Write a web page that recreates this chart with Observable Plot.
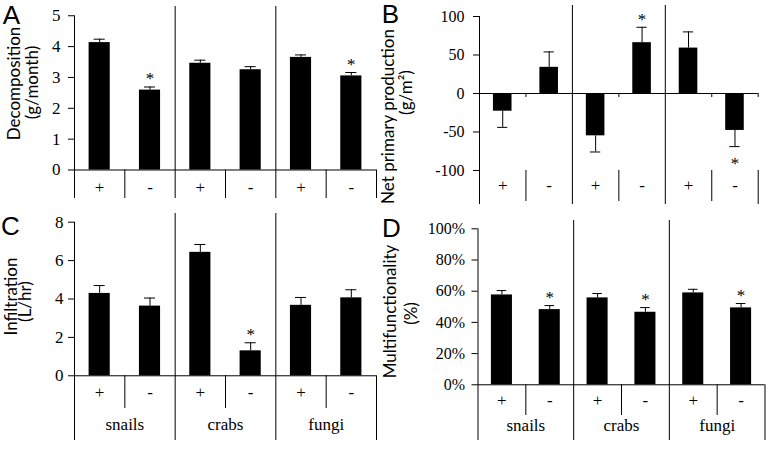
<!DOCTYPE html>
<html><head><meta charset="utf-8">
<script src="https://cdn.jsdelivr.net/npm/d3@7"></script>
<script src="https://cdn.jsdelivr.net/npm/@observablehq/plot@0.6"></script>
<style>
html,body{margin:0;padding:0;background:#fff;}
#fig{position:relative;width:766px;height:450px;overflow:hidden;background:#fff;}
#fig > svg{position:absolute;}
#fig text{fill:#000;}
</style></head><body><div id="fig"></div>
<script>
// ---- data ----
const groups = ["snails", "crabs", "fungi"];
const treatments = ["+", "-"];

const decomposition = [4.13, 2.59, 3.46, 3.25, 3.65, 3.05];
const decompositionErr = [0.11, 0.10, 0.10, 0.10, 0.08, 0.11];
const decompositionSig = [false, true, false, false, false, true];

const netPrimaryProduction = [-23, 34, -55, 66, 59, -48];
const netPrimaryProductionErr = [21, 20, 21, 20, 21, 21];
const netPrimaryProductionSig = [false, false, false, true, false, true];

const infiltration = [4.29, 3.63, 6.43, 1.30, 3.67, 4.06];
const infiltrationErr = [0.41, 0.42, 0.41, 0.42, 0.41, 0.42];
const infiltrationSig = [false, false, false, true, false, false];

const multifunctionality = [57.6, 48.2, 55.7, 46.5, 58.9, 49.3];
const multifunctionalityErr = [2.8, 2.6, 2.8, 3.0, 2.3, 2.8];
const multifunctionalitySig = [false, true, false, true, false, true];

const ticksA = [0, 1, 2, 3, 4, 5];
const ticksB = [-100, -50, 0, 50, 100];
const ticksC = [0, 2, 4, 6, 8];
const ticksD = [0, 20, 40, 60, 80, 100];

// ---- layout ----
const panels = [
  {letter: "A", values: decomposition, errors: decompositionErr, sig: decompositionSig, ticks: ticksA,
   titles: [["Decomposition", [14, 83]], ["(g/month)", [32, 82]]], letterPos: [11, 15],
   left: 0, top: 0, width: 383, height: 210, marginLeft: 74, marginRight: 7, marginTop: 6, marginBottom: 12,
   yDomain: [-0.924, 5.30], tickPadding: 8, fontSize: 17, subTop: 0, subBottom: null, edgeTop: 0,
   trtDy: -5.3, groupDy: null, barHalf: 0.21, cap: 0.11, zeroTicks: false},
  {letter: "B", values: netPrimaryProduction, errors: netPrimaryProductionErr, sig: netPrimaryProductionSig, ticks: ticksB,
   titles: [["Net primary production", [388, 116]], ["(g/m²)", [406, 92]]], letterPos: [390, 14],
   left: 383, top: 0, width: 383, height: 210, marginLeft: 96, marginRight: 8.3, marginTop: 5, marginBottom: 6,
   yDomain: [-144.2, 114.3], tickPadding: 9, fontSize: 16, subTop: -100, subBottom: -140.3, edgeTop: -100,
   trtDy: -13.3, groupDy: null, barHalf: 0.2, cap: 0.11, zeroTicks: true},
  {letter: "C", values: infiltration, errors: infiltrationErr, sig: infiltrationSig, ticks: ticksC,
   titles: [["Infiltration", [11, 296]], ["(L/hr)", [25, 301]]], letterPos: [10, 226],
   left: 0, top: 210, width: 383, height: 240, marginLeft: 74, marginRight: 7, marginTop: 3, marginBottom: 10,
   yDomain: [-3.370, 8.453], tickPadding: 5, fontSize: 17, subTop: 0, subBottom: -1.703, edgeTop: 0,
   trtDy: -42.3, groupDy: -11, barHalf: 0.21, cap: 0.11, zeroTicks: false},
  {letter: "D", values: multifunctionality, errors: multifunctionalityErr, sig: multifunctionalitySig, ticks: ticksD,
   tickFormat: d => d + "%",
   titles: [["Multifunctionality", [390, 311]], ["(%)", [411, 313]]], letterPos: [391, 228],
   left: 383, top: 210, width: 383, height: 240, marginLeft: 94.5, marginRight: 1.5, marginTop: 10, marginBottom: 10,
   yDomain: [-35.71, 105.32], tickPadding: 7, fontSize: 16, subTop: 0, subBottom: -19.68, edgeTop: 0,
   trtDy: -35, groupDy: -10, barHalf: 0.22, cap: 0.1, zeroTicks: false}
];

const serif = "Liberation Serif";
const sans = "Lato";

function panel(p) {
  const rows = p.values.map((v, i) => ({
    x: i + 0.5, v, e: p.errors[i], end: v + Math.sign(v) * p.errors[i],
    sig: p.sig[i], trt: treatments[i % 2]
  }));
  const yBottom = p.yDomain[0];
  const topTick = p.ticks[p.ticks.length - 1];
  const annot = (text, [gx, gy], opts) => Plot.text([text], {
    text: d => d, frameAnchor: "top-left",
    dx: gx - p.left - p.marginLeft, dy: gy - p.top - p.marginTop, fill: "black", ...opts
  });
  const marks = [
    Plot.ruleY([0], {strokeWidth: 1}),
    Plot.ruleX([0], {y1: yBottom, y2: topTick}),
    Plot.ruleX([2, 4]),
    Plot.ruleX([1, 3, 5], {y1: p.subTop, y2: p.subBottom == null ? yBottom : p.subBottom}),
    Plot.ruleX([6], {y1: p.edgeTop, y2: yBottom}),
    p.zeroTicks ? Plot.ruleX([1, 3, 5, 6], {y1: 0, y2: -5.2}) : null,
    Plot.rect(rows, {x1: d => d.x - p.barHalf, x2: d => d.x + p.barHalf, y1: 0, y2: "v", fill: "black"}),
    Plot.ruleX(rows, {x: "x", y1: "v", y2: "end"}),
    Plot.ruleY(rows, {y: "end", x1: d => d.x - p.cap, x2: d => d.x + p.cap}),
    Plot.text(rows.filter(d => d.sig && d.v > 0), {x: "x", y: "end", text: () => "*", dy: -8, fontSize: 17, fontFamily: serif, fill: "black"}),
    Plot.text(rows.filter(d => d.sig && d.v < 0), {x: "x", y: "end", text: () => "*", dy: 17, fontSize: 17, fontFamily: serif, fill: "black"}),
    Plot.axisY({ticks: p.ticks, tickSize: 6, tickPadding: p.tickPadding, tickFormat: p.tickFormat || (d => String(d)), label: null, fontSize: p.fontSize, fontFamily: serif, fill: "black"}),
    Plot.text(rows, {x: "x", text: "trt", frameAnchor: "bottom", dy: p.trtDy, fontSize: 17, fontFamily: serif, fill: "black"}),
    p.groupDy == null ? null : Plot.text(groups, {x: (d, i) => 2 * i + 1, text: d => d, frameAnchor: "bottom", dy: p.groupDy, fontSize: 17, fontFamily: serif, fill: "black"}),
    ...p.titles.map(([t, pos]) => annot(t, pos, {rotate: -90, fontFamily: sans, fontSize: 17, textAnchor: "middle", lineAnchor: "middle"})),
    annot(p.letter, p.letterPos, {fontFamily: "Liberation Sans", fontSize: 26, textAnchor: "middle", lineAnchor: "middle"})
  ].filter(Boolean);
  const svg = Plot.plot({
    width: p.width, height: p.height,
    marginLeft: p.marginLeft, marginRight: p.marginRight, marginTop: p.marginTop, marginBottom: p.marginBottom,
    x: {type: "linear", domain: [0, 6], axis: null},
    y: {type: "linear", domain: p.yDomain, axis: null},
    style: {background: "transparent", overflow: "visible", color: "black"},
    marks
  });
  svg.style.fontFamily = serif;
  svg.style.left = p.left + "px";
  svg.style.top = p.top + "px";
  return svg;
}

const fig = document.getElementById("fig");
panels.forEach(p => fig.appendChild(panel(p)));
</script>
</body></html>
